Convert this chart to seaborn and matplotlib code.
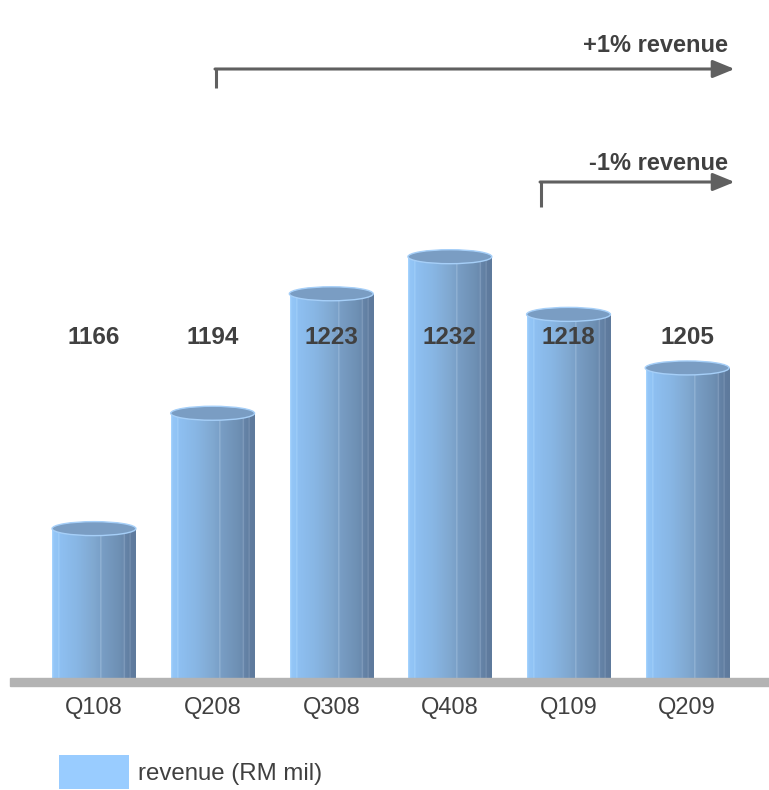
import numpy as np
import pandas as pd
import matplotlib
matplotlib.use("Agg")
import matplotlib.pyplot as plt
import seaborn as sns
from matplotlib.patches import Ellipse, Rectangle, Patch

# Quarterly revenue, RM million
quarters = ["Q108", "Q208", "Q308", "Q408", "Q109", "Q209"]
revenue = [1166, 1194, 1223, 1232, 1218, 1205]
legend_label = "revenue (RM mil)"
trend_labels = ["+1% revenue", "-1% revenue"]

df = pd.DataFrame({"quarter": quarters, "revenue": revenue})

sns.set_theme(style="white")
plt.rcParams["font.family"] = ["Liberation Sans", "DejaVu Sans"]

W, H = 769, 790
fig = plt.figure(figsize=(W / 100, H / 100), dpi=100)
ax = fig.add_axes([10 / W, (H - 679) / H, (W - 10) / W, 679 / H])

ymin = 1129.5
px_per_unit = 4.12
ax.set_ylim(ymin, ymin + 679 / px_per_unit)

sns.barplot(data=df, x="quarter", y="revenue", ax=ax, width=0.70,
            color="#99ccff", saturation=1, errorbar=None)
ax.set_xlim(-0.708, 5.69)

# horizontal shading across a cylinder body
stops = [
    (0.00, (170, 215, 255)),
    (0.02, (148, 198, 247)),
    (0.07, (144, 195, 245)),
    (0.08, (165, 210, 250)),
    (0.09, (142, 192, 242)),
    (0.30, (136, 182, 228)),
    (0.50, (128, 168, 208)),
    (0.575, (122, 160, 200)),
    (0.58, (172, 200, 228)),
    (0.59, (121, 158, 197)),
    (0.80, (110, 144, 180)),
    (0.855, (106, 138, 174)),
    (0.86, (150, 175, 205)),
    (0.87, (102, 132, 168)),
    (0.925, (98, 127, 162)),
    (0.93, (135, 160, 190)),
    (0.94, (96, 124, 159)),
    (1.00, (94, 122, 156)),
]
xs = np.linspace(0, 1, 300)
pos = [s[0] for s in stops]
grad = np.zeros((1, len(xs), 3))
for c in range(3):
    grad[0, :, c] = np.interp(xs, pos, [s[1][c] / 255 for s in stops])

for bar in ax.patches:
    x0, w = bar.get_x(), bar.get_width()
    top = bar.get_height() + bar.get_y()
    bar.set_facecolor("none")
    bar.set_edgecolor("none")
    im = ax.imshow(grad, extent=[x0, x0 + w, ymin, top], aspect="auto",
                   zorder=2, interpolation="bilinear")
    im.set_clip_path(bar)
    cap = Ellipse((x0 + w / 2, top), w * 1.01, 14 / px_per_unit, facecolor="#7a9dc3",
                  edgecolor="#a6cff8", linewidth=1.0, zorder=3)
    ax.add_patch(cap)

# value labels at a common height
for i, v in enumerate(revenue):
    ax.text(i, ymin + (680 - 338) / px_per_unit, f"{v}", ha="center", va="center",
            fontsize=17.5, fontweight="bold", color="#404040", zorder=5)

# trend arrows
arrow_color = "#606060"
def trend(x_start, y_line, drop, label, text_gap):
    y0 = ymin + (680 - y_line) / px_per_unit
    y1 = y0 - drop / px_per_unit
    ax.plot([x_start, x_start], [y1, y0], color=arrow_color, lw=2.2,
            solid_capstyle="butt", clip_on=False, zorder=4)
    ax.annotate("", xy=(5.40, y0), xytext=(x_start - 0.01, y0),
                arrowprops=dict(arrowstyle="-|>,head_length=1.1,head_width=0.45",
                                color=arrow_color, lw=2.2, shrinkA=0, shrinkB=0),
                zorder=4, annotation_clip=False)
    ax.text(5.345, y0 + text_gap / px_per_unit, label, ha="right", va="center",
            fontsize=17, fontweight="bold", color="#404040")

trend(1.03, 70, 19, trend_labels[0], 23)
trend(3.77, 183, 25, trend_labels[1], 18)

ax.set_xlabel("")
ax.set_ylabel("")
ax.set_yticks([])
ax.tick_params(axis="x", length=0, pad=13, labelsize=17, labelcolor="#404040")
for s in ax.spines.values():
    s.set_visible(False)

# baseline band
fig.add_artist(Rectangle((10 / W, (H - 686) / H), (W - 10) / W, 8 / H,
                         transform=fig.transFigure, color="#b3b3b3", zorder=10))

handle = Patch(facecolor="#99ccff", edgecolor="none")
fig.legend([handle], [legend_label], loc="center left",
           bbox_to_anchor=(42 / W, (H - 772) / H), frameon=False,
           fontsize=17.3, handlelength=2.91, handleheight=1.74,
           handletextpad=0.4, labelcolor="#404040", borderpad=0.2)

fig.savefig("out.png", dpi=100)
